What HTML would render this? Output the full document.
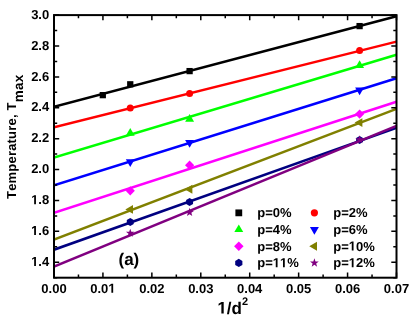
<!DOCTYPE html>
<html><head><meta charset="utf-8"><style>
html,body{margin:0;padding:0;background:#fff;overflow:hidden;}
svg{display:block;will-change:transform;}
text{font-family:"Liberation Sans",sans-serif;font-weight:bold;fill:#000;font-kerning:none;text-rendering:geometricPrecision;}
</style></head><body>
<svg width="415" height="321" viewBox="0 0 415 321">
<defs><clipPath id="c"><rect x="54.00" y="14.10" width="343.50" height="264.60"/></clipPath></defs>

<line clip-path="url(#c)" x1="54.00" y1="106.70" x2="396.50" y2="16.20" stroke="#000000" stroke-width="2.5"/>
<rect x="99.67" y="92.02" width="6.26" height="6.26" fill="#000000"/>
<rect x="127.12" y="81.17" width="6.26" height="6.26" fill="#000000"/>
<rect x="186.47" y="67.97" width="6.26" height="6.26" fill="#000000"/>
<rect x="356.47" y="22.97" width="6.26" height="6.26" fill="#000000"/>
<line clip-path="url(#c)" x1="54.00" y1="127.30" x2="396.50" y2="41.60" stroke="#ff0000" stroke-width="2.5"/>
<circle cx="130.25" cy="108.05" r="3.5" fill="#ff0000"/>
<circle cx="189.60" cy="93.40" r="3.5" fill="#ff0000"/>
<circle cx="359.60" cy="50.55" r="3.5" fill="#ff0000"/>
<line clip-path="url(#c)" x1="54.00" y1="157.55" x2="396.50" y2="54.70" stroke="#00ff00" stroke-width="2.5"/>
<polygon points="130.25,128.05 125.79,135.78 134.71,135.78" fill="#00ff00"/>
<polygon points="189.60,114.05 185.14,121.78 194.06,121.78" fill="#00ff00"/>
<polygon points="359.60,60.15 355.14,67.88 364.06,67.88" fill="#00ff00"/>
<line clip-path="url(#c)" x1="54.00" y1="185.30" x2="396.50" y2="78.20" stroke="#0000ff" stroke-width="2.5"/>
<polygon points="130.25,167.05 125.79,159.33 134.71,159.33" fill="#0000ff"/>
<polygon points="189.60,147.65 185.14,139.93 194.06,139.93" fill="#0000ff"/>
<polygon points="359.60,95.15 355.14,87.42 364.06,87.42" fill="#0000ff"/>
<line clip-path="url(#c)" x1="54.00" y1="212.80" x2="396.50" y2="101.80" stroke="#ff00ff" stroke-width="2.5"/>
<polygon points="130.25,186.20 134.85,190.80 130.25,195.40 125.65,190.80" fill="#ff00ff"/>
<polygon points="189.60,160.60 194.20,165.20 189.60,169.80 185.00,165.20" fill="#ff00ff"/>
<polygon points="359.60,109.45 364.20,114.05 359.60,118.65 355.00,114.05" fill="#ff00ff"/>
<line clip-path="url(#c)" x1="54.00" y1="239.50" x2="396.50" y2="108.80" stroke="#808000" stroke-width="2.5"/>
<polygon points="125.30,209.40 133.02,204.94 133.02,213.86" fill="#808000"/>
<polygon points="184.65,189.30 192.37,184.84 192.37,193.76" fill="#808000"/>
<polygon points="354.65,122.60 362.38,118.14 362.38,127.06" fill="#808000"/>
<line clip-path="url(#c)" x1="54.00" y1="249.70" x2="396.50" y2="127.90" stroke="#000080" stroke-width="2.5"/>
<polygon points="133.71,223.90 130.25,225.90 126.79,223.90 126.79,219.90 130.25,217.90 133.71,219.90" fill="#000080"/>
<polygon points="193.06,203.90 189.60,205.90 186.14,203.90 186.14,199.90 189.60,197.90 193.06,199.90" fill="#000080"/>
<polygon points="363.06,142.00 359.60,144.00 356.14,142.00 356.14,138.00 359.60,136.00 363.06,138.00" fill="#000080"/>
<line clip-path="url(#c)" x1="54.00" y1="266.55" x2="396.50" y2="125.90" stroke="#800080" stroke-width="2.5"/>
<polygon points="130.25,228.70 131.33,231.71 134.53,231.81 132.00,233.77 132.90,236.84 130.25,235.05 127.60,236.84 128.50,233.77 125.97,231.81 129.17,231.71" fill="#800080"/>
<polygon points="189.60,207.80 190.68,210.81 193.88,210.91 191.35,212.87 192.25,215.94 189.60,214.15 186.95,215.94 187.85,212.87 185.32,210.91 188.52,210.81" fill="#800080"/>
<polygon points="359.60,135.20 360.68,138.21 363.88,138.31 361.35,140.27 362.25,143.34 359.60,141.55 356.95,143.34 357.85,140.27 355.32,138.31 358.52,138.21" fill="#800080"/>
<rect x="54.0" y="15.1" width="342.50" height="262.60" fill="none" stroke="#000" stroke-width="2"/>
<path d="M54.00 277.7 v-5.2 M54.00 15.1 v5.2 M78.46 277.7 v-3.2 M78.46 15.1 v3.2 M102.93 277.7 v-5.2 M102.93 15.1 v5.2 M127.39 277.7 v-3.2 M127.39 15.1 v3.2 M151.86 277.7 v-5.2 M151.86 15.1 v5.2 M176.32 277.7 v-3.2 M176.32 15.1 v3.2 M200.79 277.7 v-5.2 M200.79 15.1 v5.2 M225.25 277.7 v-3.2 M225.25 15.1 v3.2 M249.71 277.7 v-5.2 M249.71 15.1 v5.2 M274.18 277.7 v-3.2 M274.18 15.1 v3.2 M298.64 277.7 v-5.2 M298.64 15.1 v5.2 M323.11 277.7 v-3.2 M323.11 15.1 v3.2 M347.57 277.7 v-5.2 M347.57 15.1 v5.2 M372.04 277.7 v-3.2 M372.04 15.1 v3.2 M396.50 277.7 v-5.2 M396.50 15.1 v5.2 M54.0 277.70 h3.2 M396.5 277.70 h-3.2 M54.0 262.25 h5.2 M396.5 262.25 h-5.2 M54.0 246.81 h3.2 M396.5 246.81 h-3.2 M54.0 231.36 h5.2 M396.5 231.36 h-5.2 M54.0 215.91 h3.2 M396.5 215.91 h-3.2 M54.0 200.46 h5.2 M396.5 200.46 h-5.2 M54.0 185.02 h3.2 M396.5 185.02 h-3.2 M54.0 169.57 h5.2 M396.5 169.57 h-5.2 M54.0 154.12 h3.2 M396.5 154.12 h-3.2 M54.0 138.68 h5.2 M396.5 138.68 h-5.2 M54.0 123.23 h3.2 M396.5 123.23 h-3.2 M54.0 107.78 h5.2 M396.5 107.78 h-5.2 M54.0 92.34 h3.2 M396.5 92.34 h-3.2 M54.0 76.89 h5.2 M396.5 76.89 h-5.2 M54.0 61.44 h3.2 M396.5 61.44 h-3.2 M54.0 45.99 h5.2 M396.5 45.99 h-5.2 M54.0 30.55 h3.2 M396.5 30.55 h-3.2 M54.0 15.10 h5.2 M396.5 15.10 h-5.2" stroke="#000" stroke-width="1.5" fill="none"/>
<text x="41.35" y="292.80" font-size="13">0.00</text>
<text x="90.28" y="292.80" font-size="13">0.0</text><path transform="translate(108.35,292.80) scale(0.006348,-0.006348)" d="M478 0V1170L140 959V1180L493 1409H759V0Z" fill="#000"/>
<text x="139.21" y="292.80" font-size="13">0.02</text>
<text x="188.13" y="292.80" font-size="13">0.03</text>
<text x="237.06" y="292.80" font-size="13">0.04</text>
<text x="285.99" y="292.80" font-size="13">0.05</text>
<text x="334.92" y="292.80" font-size="13">0.06</text>
<text x="383.85" y="292.80" font-size="13">0.07</text>
<path transform="translate(31.13,265.95) scale(0.006348,-0.006348)" d="M478 0V1170L140 959V1180L493 1409H759V0Z" fill="#000"/><text x="38.36" y="265.95" font-size="13">.4</text>
<path transform="translate(31.13,235.06) scale(0.006348,-0.006348)" d="M478 0V1170L140 959V1180L493 1409H759V0Z" fill="#000"/><text x="38.36" y="235.06" font-size="13">.6</text>
<path transform="translate(31.13,204.16) scale(0.006348,-0.006348)" d="M478 0V1170L140 959V1180L493 1409H759V0Z" fill="#000"/><text x="38.36" y="204.16" font-size="13">.8</text>
<text x="31.13" y="173.27" font-size="13">2.0</text>
<text x="31.13" y="142.38" font-size="13">2.2</text>
<text x="31.13" y="111.48" font-size="13">2.4</text>
<text x="31.13" y="80.59" font-size="13">2.6</text>
<text x="31.13" y="49.69" font-size="13">2.8</text>
<text x="31.13" y="18.80" font-size="13">3.0</text>
<path transform="translate(217.40,313.60) scale(0.008301,-0.008301)" d="M478 0V1170L140 959V1180L493 1409H759V0Z" fill="#000"/><text x="226.85" y="313.60" font-size="17">/d</text>
<text x="241.96" y="305" font-size="11">2</text>
<text transform="translate(16,199) rotate(-90)" font-size="13" letter-spacing="0.2">Temperature, T<tspan dy="7.3" font-size="13.5">max</tspan></text>
<text x="118.5" y="265" font-size="17">(a)</text>
<rect x="235.40" y="209.45" width="6.80" height="6.80" fill="#000000"/>
<text x="257.20" y="217.10" font-size="13">p=0%</text>
<circle cx="314.40" cy="212.85" r="3.6" fill="#ff0000"/>
<text x="333.20" y="217.10" font-size="13">p=2%</text>
<polygon points="238.80,224.40 234.34,232.12 243.26,232.12" fill="#00ff00"/>
<text x="257.20" y="233.80" font-size="13">p=4%</text>
<polygon points="314.40,234.70 309.94,226.97 318.86,226.97" fill="#0000ff"/>
<text x="333.20" y="233.80" font-size="13">p=6%</text>
<polygon points="238.80,241.50 243.55,246.25 238.80,251.00 234.05,246.25" fill="#ff00ff"/>
<text x="257.20" y="250.50" font-size="13">p=8%</text>
<polygon points="309.25,246.25 316.97,241.79 316.97,250.71" fill="#808000"/>
<text x="333.20" y="250.50" font-size="13">p=</text><path transform="translate(348.73,250.50) scale(0.006348,-0.006348)" d="M478 0V1170L140 959V1180L493 1409H759V0Z" fill="#000"/><text x="355.96" y="250.50" font-size="13">0%</text>
<polygon points="242.39,265.02 238.80,267.10 235.21,265.02 235.21,260.88 238.80,258.80 242.39,260.88" fill="#000080"/>
<text x="257.20" y="267.20" font-size="13">p=</text><path transform="translate(272.73,267.20) scale(0.006348,-0.006348)" d="M478 0V1170L140 959V1180L493 1409H759V0Z" fill="#000"/><path transform="translate(279.96,267.20) scale(0.006348,-0.006348)" d="M478 0V1170L140 959V1180L493 1409H759V0Z" fill="#000"/><text x="287.19" y="267.20" font-size="13">%</text>
<polygon points="314.40,258.35 315.51,261.42 318.77,261.53 316.19,263.53 317.10,266.67 314.40,264.84 311.70,266.67 312.61,263.53 310.03,261.53 313.29,261.42" fill="#800080"/>
<text x="333.20" y="267.20" font-size="13">p=</text><path transform="translate(348.73,267.20) scale(0.006348,-0.006348)" d="M478 0V1170L140 959V1180L493 1409H759V0Z" fill="#000"/><text x="355.96" y="267.20" font-size="13">2%</text>
</svg></body></html>
